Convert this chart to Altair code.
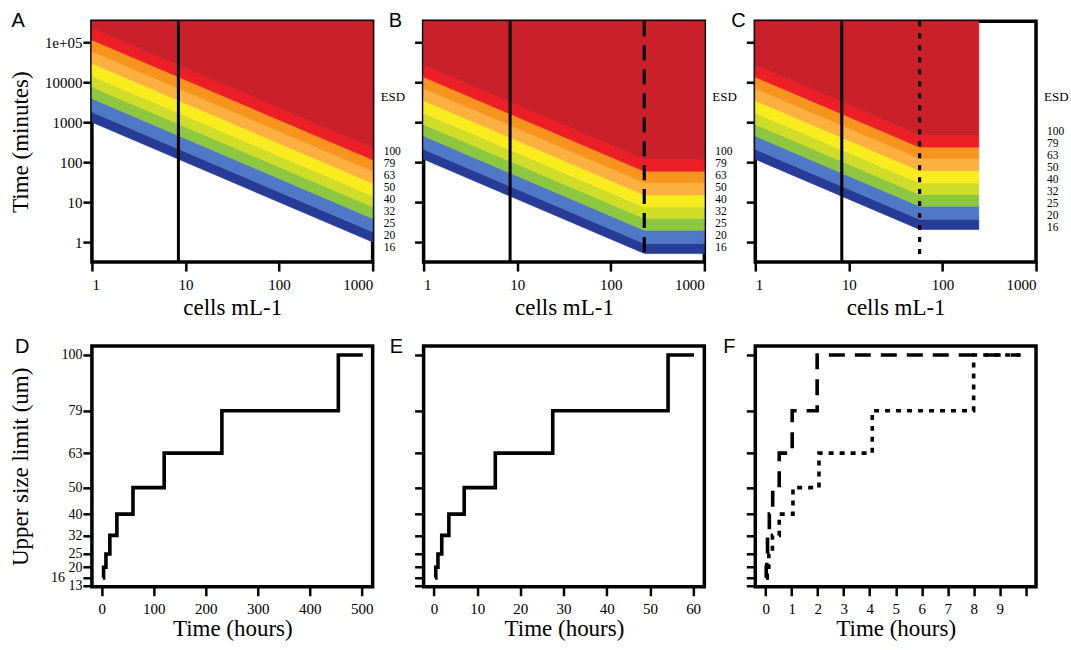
import altair as alt
import pandas as pd

# ---------------- data ----------------
SIZES = [16, 20, 25, 32, 40, 50, 63, 79, 100]          # upper size limit classes (um)
BAND_COLORS = ["#263c97", "#4f78c6", "#8dc63f", "#cfdc28", "#f9ec1e",
               "#fbb040", "#f7941d", "#ec1f26", "#c9202a"]

# Panel A: time (minutes) at which each size class is reached, at the given cell densities
A_CELLS = [1, 1000]
A_EDGE_AT_1 = [1000, 1800, 3900, 7600, 14300, 29500, 59000, 114000, 224000]
A_EDGE_AT_1000 = [1.0, 1.8, 3.9, 7.6, 14.3, 29.5, 59.0, 114, 224]

# Panel B
B_CELLS = [1, 228, 1000]
B_EDGE_AT_1 = [118, 210, 450, 880, 1700, 3450, 7000, 13500, 26700]
B_EDGE_AT_228 = [0.52, 0.92, 1.97, 3.9, 7.5, 15.1, 30.7, 59, 117]
B_EDGE_AT_1000 = [0.52, 0.92, 1.97, 3.9, 7.5, 15.1, 30.7, 59, 117]

# Panel C
C_CELLS = [1, 57, 245]
C_EDGE_AT_1 = [118, 210, 450, 880, 1700, 3450, 7000, 13500, 26700]
C_EDGE_AT_57 = [2.07, 3.7, 7.9, 15.4, 30, 61, 123, 237, 468]
C_EDGE_AT_245 = [2.07, 3.7, 7.9, 15.4, 30, 61, 123, 237, 468]

SOLID_CELLS = 8.4
B_DASH_CELLS = 228
C_DOT_CELLS = 57

TOP_Y_DOMAIN = [0.316, 335000]
TOP_Y_TICKS = [1, 10, 100, 1000, 10000, 100000]
TOP_X_TICKS = [1, 10, 100, 1000]

# right-hand ESD labels (positions in minutes on the log axis)
ESD_Y = 4340
LABEL_Y_AB = [181, 90.7, 45.5, 22.8, 11.4, 5.7, 2.9, 1.43, 0.72]
LABEL_Y_C = [572, 287, 144, 72, 36, 18, 9.0, 4.5, 2.27]
LABEL_TEXT = ["100", "79", "63", "50", "40", "32", "25", "20", "16"]

# Bottom panels: time (hours) at which the upper size limit steps to each size class
D_STEP_T = [2.0, 3.4, 8.0, 15.5, 29, 60, 120, 231, 455]
D_END = 502
E_STEP_T = [0.25, 0.42, 0.92, 1.8, 3.45, 7.0, 14.2, 27.5, 54.2]
E_END = 60.2
F_DASH_T = [0.01, 0.02, 0.04, 0.07, 0.14, 0.27, 0.52, 1.02, 1.98]
F_DOT_T = [0.03, 0.06, 0.12, 0.26, 0.52, 1.05, 2.05, 4.1, 8.0]
F_END = 9.8

SIZE_TICKS = [13, 16, 20, 25, 32, 40, 50, 63, 79, 100]
SIZE_DOMAIN = [12.64, 103.4]

W, H = 281, 241
SERIF = "Liberation Serif"
SANS = "Liberation Sans"


def letter(t, dx):
    return alt.TitleParams(text=t, anchor="start", frame="group", dx=dx, dy=27, offset=0,
                           baseline="alphabetic", font=SANS, fontSize=20,
                           fontWeight="normal", color="black")


def band_frame(cells, edges):
    rows = []
    for c, e in zip(cells, edges):
        for k in range(len(e)):
            hi = e[k + 1] if k + 1 < len(e) else TOP_Y_DOMAIN[1]
            rows.append({"cells": c, "lo": e[k], "hi": hi, "band": k})
    return pd.DataFrame(rows)


def top_panel(cells, edges, extra_rule, label_y, show_y_labels, let, let_dx):
    xs = alt.Scale(type="log", domain=[1, 1000], nice=False)
    ys = alt.Scale(type="log", domain=TOP_Y_DOMAIN, nice=False)
    band_scale = alt.Scale(domain=list(range(9)), range=BAND_COLORS)
    yaxis = alt.Axis(values=TOP_Y_TICKS,
                     labelExpr="datum.value >= 100000 ? '1e+05' : format(datum.value, 'd')",
                     labels=show_y_labels, labelOverlap=False,
                     title="Time (minutes)" if show_y_labels else None,
                     titlePadding=12, labelPadding=1)
    xaxis = alt.Axis(values=TOP_X_TICKS, format="d", title="cells mL-1",
                     labelPadding=6, titlePadding=4, labelOverlap=False)
    X = alt.X("cells:Q", scale=xs, axis=xaxis)
    Y = alt.Y("lo:Q", scale=ys, axis=yaxis)
    bands = alt.Chart(band_frame(cells, edges)).mark_area(strokeWidth=0.6).encode(
        x=X, y=Y, y2="hi:Q",
        fill=alt.Fill("band:O", scale=band_scale, legend=None),
        stroke=alt.Stroke("band:O", scale=band_scale, legend=None),
    )
    solid = alt.Chart(pd.DataFrame({"cells": [SOLID_CELLS]})).mark_rule(
        color="black", strokeWidth=3).encode(x=X)
    layers = [bands, solid]
    if extra_rule is not None:
        c, dash = extra_rule
        layers.append(alt.Chart(pd.DataFrame({"cells": [c]})).mark_rule(
            color="black", strokeWidth=3.2, strokeDash=dash).encode(x=X))
    lab = pd.DataFrame({"cells": [1000] * len(label_y), "lo": label_y, "t": LABEL_TEXT})
    esd = pd.DataFrame({"cells": [1000], "lo": [ESD_Y], "t": ["ESD"]})
    layers.append(alt.Chart(lab).mark_text(align="left", baseline="middle", dx=11,
                                           font=SERIF, fontSize=11.5, fill="black")
                  .encode(x=X, y=Y, text="t:N"))
    layers.append(alt.Chart(esd).mark_text(align="left", baseline="middle", dx=8,
                                           font=SERIF, fontSize=13, fill="black")
                  .encode(x=X, y=Y, text="t:N"))
    return alt.layer(*layers).properties(width=W, height=H, title=letter(let, let_dx))


def step_frame(times, end):
    return pd.DataFrame({"t": list(times) + [end], "size": SIZES + [SIZES[-1]]})


def bottom_panel(series, xdomain, xticks, hide_last, show_y, let, let_dx):
    xs = alt.Scale(domain=xdomain, nice=False, zero=False)
    ys = alt.Scale(domain=SIZE_DOMAIN, nice=False, zero=False)
    xaxis = alt.Axis(values=xticks, title="Time (hours)", labelPadding=6, titlePadding=1,
                     labelOverlap=False,
                     labelExpr=("datum.value == 10 ? '' : datum.label") if hide_last else "datum.label")
    yaxis = alt.Axis(values=SIZE_TICKS, labels=show_y, labelOverlap=False, labelFontSize=14,
                     labelExpr="datum.value == 16 ? '' : datum.label",
                     title="Upper size limit (um)" if show_y else None,
                     titlePadding=28, labelPadding=1)
    X = alt.X("t:Q", scale=xs, axis=xaxis)
    Y = alt.Y("size:Q", scale=ys, axis=yaxis)
    layers = []
    for times, end, dash in series:
        kw = {"strokeDash": dash} if dash else {}
        layers.append(alt.Chart(step_frame(times, end)).mark_line(
            interpolate="step-after", color="black", strokeWidth=3.6,
            strokeJoin="miter", **kw).encode(x=X, y=Y))
    if show_y:
        layers.append(alt.Chart(pd.DataFrame({"size": [16], "lab": ["16"]})).mark_text(
            align="right", baseline="middle", font=SERIF, fontSize=14, fill="black")
            .encode(x=alt.value(-27), y=Y, text="lab:N"))
    return alt.layer(*layers).properties(width=W, height=H, title=letter(let, let_dx))


A = top_panel(A_CELLS, [A_EDGE_AT_1, A_EDGE_AT_1000], None, LABEL_Y_AB, True, "A", -80.5)
B = top_panel(B_CELLS, [B_EDGE_AT_1, B_EDGE_AT_228, B_EDGE_AT_1000],
              (B_DASH_CELLS, [15, 9]), LABEL_Y_AB, False, "B", -35)
C = top_panel(C_CELLS, [C_EDGE_AT_1, C_EDGE_AT_57, C_EDGE_AT_245],
              (C_DOT_CELLS, [5, 7]), LABEL_Y_C, False, "C", -24)

D = bottom_panel([(D_STEP_T, D_END, None)], [-19, 521], [0, 100, 200, 300, 400, 500],
                 False, True, "D", -77)
E = bottom_panel([(E_STEP_T, E_END, None)], [-2.4, 62.6], [0, 10, 20, 30, 40, 50, 60],
                 False, False, "E", -34)
F = bottom_panel([(F_DASH_T, F_END, [16, 10]), (F_DOT_T, F_END, [5, 6])], [-0.4, 10.4],
                 list(range(0, 11)), True, False, "F", -32)

chart = alt.concat(A, B, C, D, E, F, columns=3, bounds="flush",
                   spacing={"row": 84, "column": 51}).properties(
    padding={"left": 7, "top": 8, "right": 0, "bottom": 0},
    background="white",
).configure_view(stroke="black", strokeWidth=3.5).configure_axis(
    labelFont=SERIF, titleFont=SERIF, labelColor="black", titleColor="black",
    labelFontSize=15, titleFontSize=23, titleFontWeight="normal",
    tickColor="black", tickWidth=2.5, tickSize=9, domain=False, grid=False,
)

chart.save("out.html", embed_options={"renderer": "svg", "actions": False})
